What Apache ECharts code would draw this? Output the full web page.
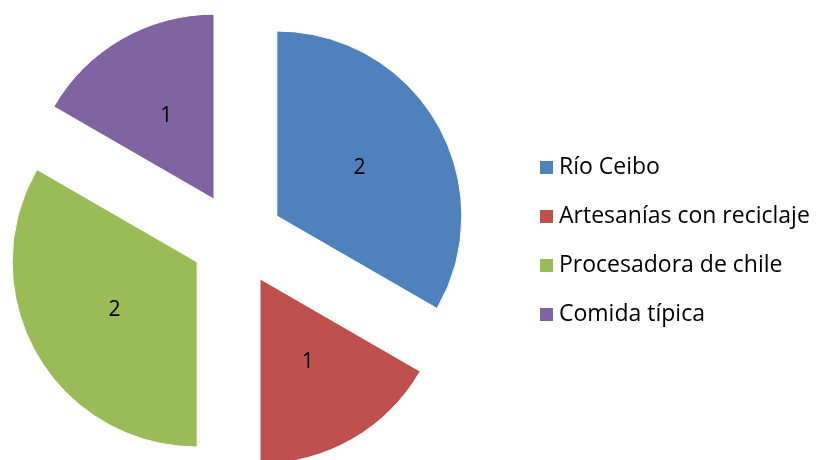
<!DOCTYPE html>
<html>
<head>
<meta charset="utf-8">
<script src="https://cdn.jsdelivr.net/npm/echarts@6/dist/echarts.min.js"></script>
<style>
  html, body { margin: 0; padding: 0; background: #fff; }
  #chart { width: 816px; height: 460px; }
</style>
</head>
<body>
<div id="chart"></div>
<script>
// datos del grafico
var categories = ['Río Ceibo', 'Artesanías con reciclaje', 'Procesadora de chile', 'Comida típica']
var values = [2, 1, 2, 1]
var colors = ['#4F81BD', '#C0504D', '#9BBB59', '#8064A2']

var chart = echarts.init(document.getElementById('chart'))

var pieData = categories.map(function(name, i) {
  return {
    name: name,
    value: values[i],
    selected: true,
    itemStyle: { color: colors[i] }
  }
})

chart.setOption({
  animation: false,
  legend: {
    orient: 'vertical',
    left: 538,
    top: 156,
    padding: 0,
    itemWidth: 15,
    itemHeight: 15,
    itemGap: 26,
    icon: 'rect',
    selectedMode: false,
    textStyle: {
      fontFamily: 'Open Sans',
      fontSize: 23,
      color: '#000'
    },
    data: categories
  },
  series: [
    {
      type: 'pie',
      center: [237, 239],
      radius: 185,
      startAngle: 90,
      clockwise: true,
      selectedMode: 'multiple',
      selectedOffset: 46,
      avoidLabelOverlap: false,
      label: {
        show: true,
        position: 'inside',
        formatter: '{c}',
        fontFamily: 'Open Sans',
        fontSize: 21,
        color: '#000',
        offset: [0, 5]
      },
      labelLine: { show: false },
      emphasis: { disabled: true },
      itemStyle: { borderColor: '#fff', borderWidth: 1 },
      data: pieData
    }
  ]
})
</script>
</body>
</html>
